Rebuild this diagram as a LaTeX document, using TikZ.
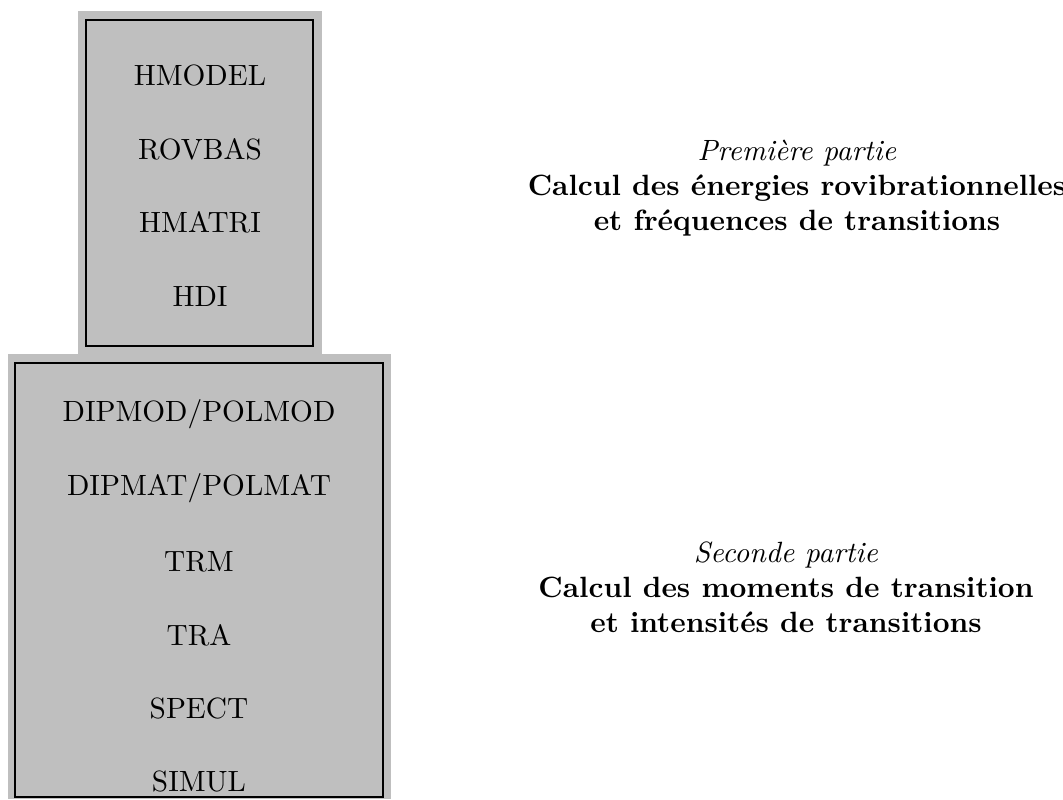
\documentclass[tikz,border=0pt]{standalone}
\usepackage{fontspec}
\definecolor{boxgrey}{gray}{0.75}
\tikzset{
  prog/.style={inner sep=0pt},
  partie/.style={align=center, inner sep=0pt}
}
\begin{document}
\begin{tikzpicture}[x=0.012cm,y=-0.012cm]
\useasboundingbox (0,0) rectangle (1063,799);
% premier bloc
\fill[boxgrey] (78,11) rectangle (322,354);
\draw[line width=0.9pt] (86,20) rectangle (313,346);
% second bloc
\fill[boxgrey] (8,354) rectangle (391,799);
\draw[line width=0.9pt] (15,363) rectangle (383,797);
\node[prog] (hmodel) at (200,75) {HMODEL};
\node[prog] (rovbas) at (200,149) {ROVBAS};
\node[prog] (hmatri) at (200,222) {HMATRI};
\node[prog] (hdi) at (200,296) {HDI};
\node[prog] (dipmod) at (199,414) {DIPMOD/POLMOD};
\node[prog] (dipmat) at (199,488) {DIPMAT/POLMAT};
\node[prog] (trm) at (199,562) {TRM};
\node[prog] (tra) at (199,635) {TRA};
\node[prog] (spect) at (199,708) {SPECT};
\node[prog] (simul) at (199,781) {SIMUL};
\node[partie] (partie1) at (797,188) {\textit{Première partie}\\
  \textbf{Calcul des énergies rovibrationnelles}\\
  \textbf{et fréquences de transitions}};
\node[partie] (partie2) at (786,587) {\textit{Seconde partie}\\
  \textbf{Calcul des moments de transition}\\
  \textbf{et intensités de transitions}};
\end{tikzpicture}
\end{document}
